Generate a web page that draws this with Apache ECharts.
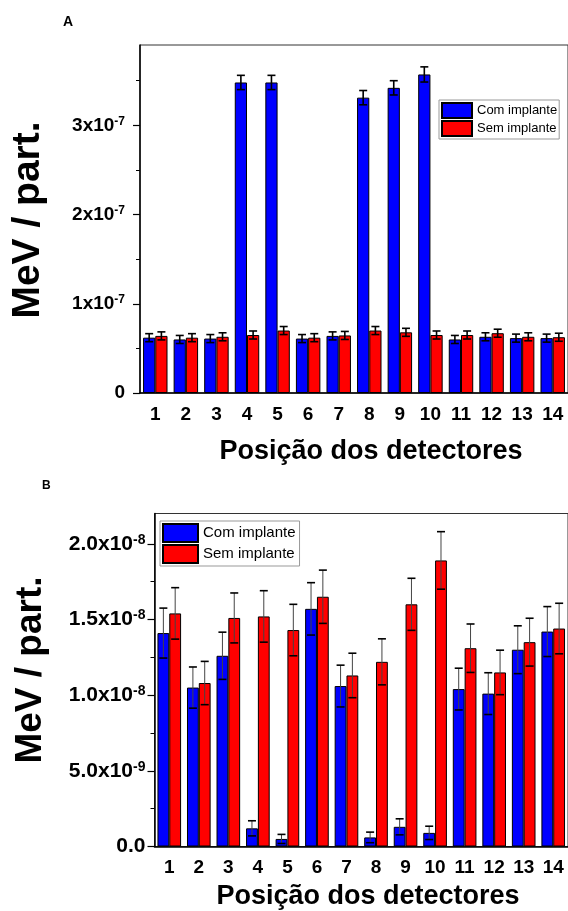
<!DOCTYPE html>
<html>
<head>
<meta charset="utf-8">
<script src="https://cdn.jsdelivr.net/npm/echarts@6/dist/echarts.min.js"></script>
<style>
  html, body { margin: 0; padding: 0; background: #fff; }
  #chart { width: 568px; height: 911px; }
</style>
</head>
<body>
<div id="chart"></div>
<script>
  // posições dos detectores
  var detectores = ['1', '2', '3', '4', '5', '6', '7', '8', '9', '10', '11', '12', '13', '14'];

  // painel A, valores em unidades de 1e-7 MeV/part.
  var comA = [0.62, 0.60, 0.61, 3.48, 3.48, 0.61, 0.64, 3.31, 3.42, 3.57, 0.60, 0.63, 0.615, 0.615];
  var semA = [0.64, 0.62, 0.63, 0.65, 0.70, 0.62, 0.645, 0.70, 0.68, 0.65, 0.65, 0.67, 0.63, 0.625];
  var comAErr = [0.045, 0.045, 0.045, 0.08, 0.08, 0.045, 0.045, 0.08, 0.08, 0.085, 0.045, 0.045, 0.045, 0.045];
  var semAErr = [0.045, 0.045, 0.045, 0.045, 0.045, 0.045, 0.045, 0.045, 0.045, 0.045, 0.045, 0.045, 0.045, 0.045];
  var ticksA = [0, 1, 2, 3];

  // painel B, valores em unidades de 1e-8 MeV/part.
  var comB = [1.41, 1.05, 1.26, 0.12, 0.05, 1.57, 1.06, 0.06, 0.13, 0.09, 1.04, 1.01, 1.30, 1.42];
  var semB = [1.54, 1.08, 1.51, 1.52, 1.43, 1.65, 1.13, 1.22, 1.60, 1.89, 1.31, 1.15, 1.35, 1.44];
  var comBErr = [0.165, 0.136, 0.156, 0.05, 0.03, 0.173, 0.138, 0.035, 0.053, 0.044, 0.138, 0.138, 0.158, 0.165];
  var semBErr = [0.17, 0.143, 0.165, 0.17, 0.17, 0.176, 0.147, 0.152, 0.172, 0.19, 0.16, 0.147, 0.158, 0.167];
  var ticksB = [0, 0.5, 1, 1.5, 2];

  var FONT = '"Liberation Sans", Arial, sans-serif';
  var AZUL = '#0000ff';
  var VERMELHO = '#ff0000';

  var chart = echarts.init(document.getElementById('chart'), null, { renderer: 'canvas' });

  // barra de erro deslocada para a barra azul (-1) ou vermelha (+1)
  function errBar(side, stemColor, stemWidth) {
    return function (params, api) {
      var x = api.value(0);
      var v = api.value(1);
      var e = api.value(2);
      var band = api.size([1, 0])[0];
      var hi = api.coord([x, v + e]);
      var lo = api.coord([x, v - e]);
      var cx = hi[0] + side * band * 0.2;
      var w = 4;
      return {
        type: 'group',
        children: [
          { type: 'line', shape: { x1: cx, y1: hi[1], x2: cx, y2: lo[1] }, style: { stroke: stemColor, lineWidth: stemWidth } },
          { type: 'line', shape: { x1: cx - w, y1: hi[1], x2: cx + w, y2: hi[1] }, style: { stroke: '#000', lineWidth: 1.6 } },
          { type: 'line', shape: { x1: cx - w, y1: lo[1], x2: cx + w, y2: lo[1] }, style: { stroke: '#000', lineWidth: 1.6 } }
        ]
      };
    };
  }

  function errData(vals, errs) {
    return vals.map(function (v, i) { return [i, v, errs[i]]; });
  }

  function richLabel(size, supSize) {
    return {
      m: { fontSize: size, fontWeight: 'bold', fontFamily: FONT, color: '#000', lineHeight: size + 3 },
      s: { fontSize: supSize, fontWeight: 'bold', fontFamily: FONT, color: '#000', lineHeight: supSize, verticalAlign: 'top', padding: [1, 0, 0, 0] }
    };
  }

  function xAxes(grid) {
    return [
      {
        gridIndex: grid,
        type: 'category',
        data: detectores,
        position: 'bottom',
        axisLine: { lineStyle: { color: '#000', width: 1.5 } },
        axisTick: { alignWithLabel: true, length: 6, lineStyle: { color: '#000', width: 1.2 } },
        axisLabel: { margin: 12, fontSize: 19, fontWeight: 'bold', fontFamily: FONT, color: '#000' },
        splitLine: { show: false }
      },
      {
        // tiques menores nos limites das categorias
        gridIndex: grid,
        type: 'category',
        data: detectores,
        position: 'bottom',
        axisLine: { show: false },
        axisTick: { length: 3, lineStyle: { color: '#000', width: 1 } },
        axisLabel: { show: false },
        splitLine: { show: false }
      }
    ];
  }

  function bar(name, color, grid, data) {
    return {
      type: 'bar',
      name: name,
      xAxisIndex: grid * 2,
      yAxisIndex: grid,
      barGap: '0%',
      barCategoryGap: '20%',
      data: data,
      itemStyle: { color: color, borderColor: '#000', borderWidth: 1 }
    };
  }

  function errSeries(grid, side, vals, errs, stemColor, stemWidth) {
    return {
      type: 'custom',
      xAxisIndex: grid * 2,
      yAxisIndex: grid,
      renderItem: errBar(side, stemColor, stemWidth),
      encode: { x: 0, y: 1 },
      data: errData(vals, errs),
      z: 10,
      silent: true
    };
  }

  var legendBase = {
    orient: 'vertical',
    selectedMode: false,
    icon: 'rect',
    itemGap: 1,
    backgroundColor: '#fff',
    borderColor: '#999',
    borderWidth: 1,
    borderRadius: 0,
    data: ['Com implante', 'Sem implante']
  };

  chart.setOption({
    animation: false,
    backgroundColor: '#fff',
    grid: [
      { left: 140, top: 45, width: 431, height: 348, show: true, borderColor: '#333', borderWidth: 1 },
      { left: 154.5, top: 513.5, width: 414, height: 333, show: true, borderColor: '#333', borderWidth: 1 }
    ],
    legend: [
      Object.assign({}, legendBase, {
        left: 439, top: 100,
        itemWidth: 30, itemHeight: 15,
        padding: [2, 2, 2, 2],
        textStyle: { fontSize: 13, fontFamily: FONT, color: '#000' }
      }),
      Object.assign({}, legendBase, {
        left: 160, top: 521,
        itemWidth: 35, itemHeight: 18,
        padding: [2, 4, 2, 2],
        textStyle: { fontSize: 15, fontFamily: FONT, color: '#000' }
      })
    ],
    xAxis: xAxes(0).concat(xAxes(1)),
    yAxis: [
      {
        gridIndex: 0,
        type: 'value',
        min: 0,
        max: 3.9,
        interval: 1,
        axisLine: { show: true, lineStyle: { color: '#000', width: 1.5 } },
        axisTick: { show: true, length: 7, customValues: ticksA, lineStyle: { color: '#000', width: 1.2 } },
        minorTick: { show: true, splitNumber: 2, length: 4, lineStyle: { color: '#000', width: 1 } },
        splitLine: { show: false },
        axisLabel: {
          margin: 15,
          customValues: ticksA,
          formatter: function (v) {
            return v === 0 ? '{m|0}' : '{m|' + v + 'x10}{s|-7}';
          },
          rich: richLabel(19, 12)
        }
      },
      {
        gridIndex: 1,
        type: 'value',
        min: 0,
        max: 2.2,
        interval: 0.5,
        axisLine: { show: true, lineStyle: { color: '#000', width: 1.5 } },
        axisTick: { show: true, length: 7, customValues: ticksB, lineStyle: { color: '#000', width: 1.2 } },
        minorTick: { show: true, splitNumber: 2, length: 4, lineStyle: { color: '#000', width: 1 } },
        splitLine: { show: false },
        axisLabel: {
          margin: 9,
          customValues: ticksB,
          formatter: function (v) {
            if (v === 0) return '{m|0.0}';
            if (v === 0.5) return '{m|5.0x10}{s|-9}';
            return '{m|' + v.toFixed(1) + 'x10}{s|-8}';
          },
          rich: richLabel(21, 14)
        }
      }
    ],
    series: [
      bar('Com implante', AZUL, 0, comA),
      bar('Sem implante', VERMELHO, 0, semA),
      errSeries(0, -1, comA, comAErr, '#000', 1.6),
      errSeries(0, 1, semA, semAErr, '#000', 1.6),
      bar('Com implante', AZUL, 1, comB),
      bar('Sem implante', VERMELHO, 1, semB),
      errSeries(1, -1, comB, comBErr, '#444', 1),
      errSeries(1, 1, semB, semBErr, '#444', 1)
    ],
    graphic: [
      { type: 'text', left: 63, top: 15, style: { text: 'A', font: 'bold 14px ' + FONT, fill: '#000' } },
      { type: 'text', left: 42, top: 480, style: { text: 'B', font: 'bold 12px ' + FONT, fill: '#000' } },
      {
        type: 'text', x: 28, y: 220, rotation: Math.PI / 2,
        style: { text: 'MeV / part.', font: 'bold 39px ' + FONT, fill: '#000', textAlign: 'center', textVerticalAlign: 'middle' }
      },
      {
        type: 'text', x: 31, y: 670, rotation: Math.PI / 2,
        style: { text: 'MeV / part.', font: 'bold 37px ' + FONT, fill: '#000', textAlign: 'center', textVerticalAlign: 'middle' }
      },
      {
        type: 'text', x: 371, y: 452,
        style: { text: 'Posição dos detectores', font: 'bold 27px ' + FONT, fill: '#000', textAlign: 'center', textVerticalAlign: 'middle' }
      },
      {
        type: 'text', x: 368, y: 897,
        style: { text: 'Posição dos detectores', font: 'bold 27px ' + FONT, fill: '#000', textAlign: 'center', textVerticalAlign: 'middle' }
      }
    ]
  });

  window.addEventListener('resize', function () {
    chart && chart.resize();
  });
</script>
</body>
</html>
